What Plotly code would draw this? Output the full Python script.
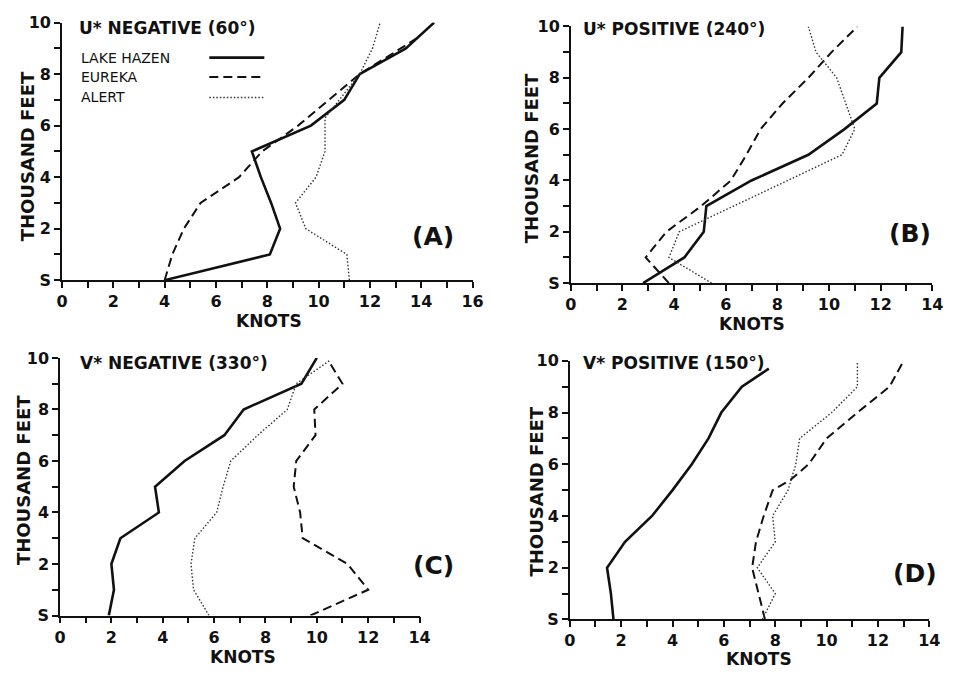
import plotly.graph_objects as go

# ---------------- data (altitude in thousand feet, speed in knots) ----------------
# Panel A: U* negative (60 deg)
a_lh_alt = [0, 1, 2, 3, 4, 5, 6, 7, 8, 9, 10]
a_lh_kt = [4.0, 8.1, 8.5, 8.15, 7.75, 7.4, 9.7, 11.0, 11.6, 13.4, 14.5]
a_eu_alt = [0, 1, 2, 3, 4, 5, 6, 7, 8, 9, 9.5]
a_eu_kt = [4.0, 4.3, 4.75, 5.4, 6.9, 7.8, 9.2, 10.4, 11.6, 13.2, 14.0]
a_al_alt = [0, 1, 2, 3, 4, 5, 6.3, 8, 9, 10]
a_al_kt = [11.2, 11.1, 9.5, 9.1, 9.9, 10.25, 10.25, 11.6, 12.1, 12.4]

# Panel B: U* positive (240 deg)
b_lh_alt = [0, 1, 2, 3, 4, 5, 6, 7, 8, 9, 10]
b_lh_kt = [2.8, 4.4, 5.15, 5.25, 7.0, 9.2, 10.6, 11.85, 11.95, 12.8, 12.85]
b_eu_alt = [0, 1, 2, 3, 4, 5, 6, 7, 8, 9, 10]
b_eu_kt = [3.8, 2.9, 3.7, 5.05, 6.2, 6.8, 7.35, 8.2, 9.2, 10.1, 11.1]
b_al_alt = [0, 1, 2, 5, 6, 8, 9, 10]
b_al_kt = [5.45, 3.8, 4.2, 10.5, 11.0, 10.3, 9.5, 9.2]

# Panel C: V* negative (330 deg)
c_lh_alt = [0, 1, 2, 3, 4, 5, 6, 7, 8, 9, 10]
c_lh_kt = [1.9, 2.1, 2.0, 2.35, 3.85, 3.7, 4.85, 6.4, 7.15, 9.4, 10.0]
c_eu_alt = [0, 1, 2, 3, 4, 5, 6, 7, 8, 9, 9.9]
c_eu_kt = [9.75, 12.0, 11.2, 9.45, 9.35, 9.1, 9.2, 9.95, 9.9, 11.0, 10.45]
c_al_alt = [0, 1, 2, 3, 4, 5, 6, 7, 8, 9, 9.9]
c_al_kt = [5.8, 5.2, 5.1, 5.25, 6.1, 6.35, 6.65, 7.7, 8.85, 9.2, 10.5]

# Panel D: V* positive (150 deg)
d_lh_alt = [0, 1, 2, 3, 4, 5, 6, 7, 8, 9, 9.7]
d_lh_kt = [1.7, 1.6, 1.45, 2.15, 3.2, 4.0, 4.75, 5.4, 5.9, 6.7, 7.75]
d_eu_alt = [0, 1, 2, 3, 4, 5, 5.4, 6, 7, 8, 9, 10]
d_eu_kt = [7.6, 7.35, 7.1, 7.25, 7.55, 7.9, 8.6, 9.3, 10.0, 11.2, 12.45, 13.0]
d_al_alt = [0, 1, 2, 3, 4, 5, 6, 7, 8, 9, 10]
d_al_kt = [7.5, 8.0, 7.3, 8.0, 7.9, 8.5, 8.8, 8.95, 10.2, 11.2, 11.2]

station_names = ["LAKE HAZEN", "EUREKA", "ALERT"]
panel_titles = ["U* NEGATIVE (60°)", "U* POSITIVE (240°)", "V* NEGATIVE (330°)", "V* POSITIVE (150°)"]
panel_labels = ["(A)", "(B)", "(C)", "(D)"]
x_max = [16, 14, 14, 14]
y_tickvals = [0, 2, 4, 6, 8, 10]
y_ticktext = ["S", "2", "4", "6", "8", "10"]

panels = [
    [(a_lh_kt, a_lh_alt), (a_eu_kt, a_eu_alt), (a_al_kt, a_al_alt)],
    [(b_lh_kt, b_lh_alt), (b_eu_kt, b_eu_alt), (b_al_kt, b_al_alt)],
    [(c_lh_kt, c_lh_alt), (c_eu_kt, c_eu_alt), (c_al_kt, c_al_alt)],
    [(d_lh_kt, d_lh_alt), (d_eu_kt, d_eu_alt), (d_al_kt, d_al_alt)],
]

# ---------------- layout helpers ----------------
W, H = 958, 678
def px(x):
    return x / W
def py(y):
    return 1 - y / H

# plot-area pixel boxes (left, right, top, bottom)
boxes = [(57, 475, 14, 279), (575, 943, 18, 282), (55, 421, 359, 624), (574, 940, 362, 628)]
knots_pos = [(268, 321), (759, 324), (241, 667), (767, 669)]
feet_pos = [(22, 152), (535, 154), (18, 485), (540, 496)]
title_pos = [(72, 20), (585, 21), (73, 364), (585, 364)]
label_pos = [(435, 234), (920, 231), (435, 573), (925, 581)]

styles = [
    dict(color="#111", width=2.6, dash="solid"),
    dict(color="#111", width=2.0, dash="9px,5px"),
    dict(color="#333", width=1.4, dash="1.5px,2px"),
]

FONT = "DejaVu Sans"
fig = go.Figure()
layout = dict(
    width=W, height=H, margin=dict(l=0, r=0, t=0, b=0),
    paper_bgcolor="white", plot_bgcolor="white", showlegend=False,
    font=dict(family=FONT, color="#111"),
)

annotations = []
shapes = []
for i, (box, series) in enumerate(zip(boxes, panels)):
    n = "" if i == 0 else str(i + 1)
    xa, ya = "x" + n, "y" + n
    for (kt, alt), st, name in zip(series, styles, station_names):
        fig.add_trace(go.Scatter(x=kt, y=alt, mode="lines", line=st, name=name,
                                 xaxis=xa, yaxis=ya, hoverinfo="skip"))
    l, r, t, b = box
    common = dict(showgrid=False, zeroline=False, showline=True, linecolor="#111", linewidth=1.6,
                  ticks="outside", ticklen=6, tickwidth=1.5, tickcolor="#111",
                  tickfont=dict(family=FONT, size=16, color="#111", weight="bold"))
    minor = dict(dtick=1, ticklen=6, tickwidth=1.5, tickcolor="#111", ticks="outside")
    layout["xaxis" + n] = dict(common, domain=[px(l), px(r)], range=[0, x_max[i]], anchor=ya,
                               tickmode="linear", tick0=0, dtick=2, minor=minor)
    layout["yaxis" + n] = dict(common, domain=[py(b), py(t)], range=[0, 10], anchor=xa,
                               tickmode="array", tickvals=y_tickvals, ticktext=y_ticktext, minor=minor)
    kx, ky = knots_pos[i]
    annotations.append(dict(text="KNOTS", x=px(kx), y=py(ky), xref="paper", yref="paper",
                            showarrow=False, font=dict(family=FONT, size=17, color="#111", weight="bold"),
                            xanchor="center", yanchor="middle"))
    fx, fy = feet_pos[i]
    annotations.append(dict(text="THOUSAND FEET", x=px(fx), y=py(fy), xref="paper", yref="paper",
                            textangle=-90, showarrow=False,
                            font=dict(family=FONT, size=18, color="#111", weight="bold"),
                            xanchor="center", yanchor="middle"))
    tx, ty = title_pos[i]
    annotations.append(dict(text=panel_titles[i], x=px(tx), y=py(ty), xref="paper", yref="paper",
                            showarrow=False, font=dict(family=FONT, size=17, color="#111", weight="bold"),
                            xanchor="left", yanchor="middle"))
    lx, ly = label_pos[i]
    annotations.append(dict(text=panel_labels[i], x=px(lx), y=py(ly), xref="paper", yref="paper",
                            showarrow=False, font=dict(family=FONT, size=25, color="#111", weight="bold"),
                            xanchor="center", yanchor="middle"))

# legend (panel A), text with sample lines on the right
leg_rows = [50, 70, 91]
for name, st, yy in zip(station_names, styles, leg_rows):
    annotations.append(dict(text=name, x=px(74), y=py(yy), xref="paper", yref="paper", showarrow=False,
                            font=dict(family=FONT, size=14, color="#111"), xanchor="left", yanchor="middle"))
    shapes.append(dict(type="line", xref="paper", yref="paper", x0=px(207), x1=px(263), y0=py(yy), y1=py(yy),
                       line=dict(color=st["color"], width=st["width"], dash=st["dash"])))

layout["annotations"] = annotations
layout["shapes"] = shapes
fig.update_layout(**layout)
fig.write_html("out.html")
